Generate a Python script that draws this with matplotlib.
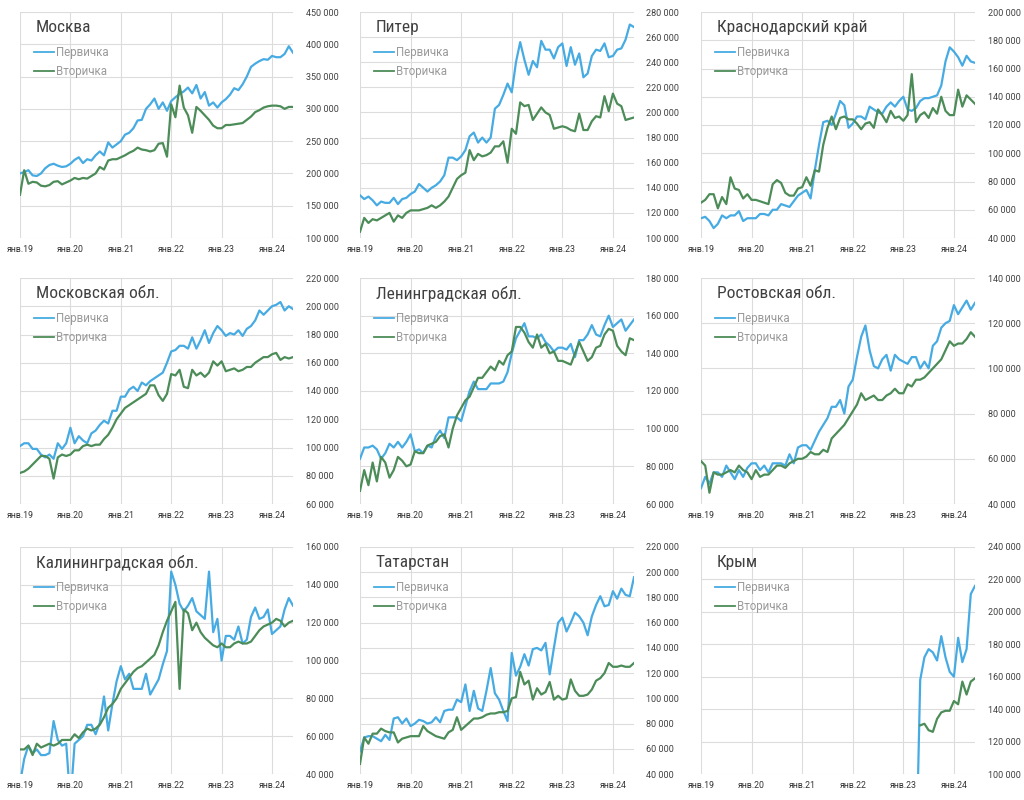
import numpy as np
import matplotlib
matplotlib.use("Agg")
import matplotlib.pyplot as plt
from matplotlib import font_manager

plt.rcParams['font.family'] = ['Roboto', 'DejaVu Sans']

# ежемесячные цены, тыс. руб./м², янв.2019 - июн.2024 (66 точек)
regions = ["Москва", "Питер", "Краснодарский край",
           "Московская обл.", "Ленинградская обл.", "Ростовская обл.",
           "Калининградская обл.", "Татарстан", "Крым"]

moscow_new = [200, 202, 205, 197, 196, 200, 208, 213, 215, 212, 210, 211,
              215, 221, 225, 216, 222, 220, 228, 234, 228, 248, 240, 245,
              250, 260, 263, 270, 282, 283, 300, 307, 316, 300, 310, 297,
              312, 318, 323, 327, 333, 324, 337, 316, 326, 305, 310, 302,
              310, 315, 322, 332, 329, 338, 350, 365, 370, 374, 377, 376,
              382, 380, 380, 385, 397, 387]
moscow_old = [167, 205, 184, 187, 186, 181, 180, 182, 187, 188, 183, 186,
              189, 193, 191, 193, 192, 196, 200, 210, 206, 220, 222, 222,
              225, 228, 232, 235, 240, 237, 236, 234, 236, 246, 247, 226,
              307, 287, 336, 302, 290, 263, 303, 297, 290, 283, 274, 270,
              270, 275, 275, 276, 277, 278, 283, 288, 295, 298, 302, 304,
              305, 305, 304, 300, 303, 303]

spb_new = [134, 131, 133, 130, 126, 129, 128, 128, 132, 127, 131, 132,
           135, 137, 143, 140, 137, 140, 142, 145, 150, 164, 164, 162,
           165, 170, 181, 184, 176, 180, 176, 180, 203, 206, 214, 223,
           216, 240, 256, 242, 230, 241, 236, 257, 250, 250, 243, 252,
           255, 237, 252, 238, 247, 228, 231, 245, 250, 249, 255, 244,
           245, 250, 251, 258, 270, 268]
spb_old = [105, 116, 112, 115, 114, 116, 118, 120, 113, 118, 116, 120,
           122, 122, 122, 123, 124, 126, 124, 126, 129, 133, 140, 147,
           150, 152, 170, 162, 167, 165, 166, 168, 173, 173, 177, 160,
           187, 183, 208, 205, 206, 194, 199, 204, 200, 198, 187, 188,
           189, 188, 186, 185, 199, 186, 186, 193, 197, 196, 213, 201,
           215, 207, 205, 194, 195, 196]

krd_new = [54, 55, 52, 47, 50, 56, 54, 56, 56, 59, 52, 54,
           54, 54, 57, 57, 56, 60, 60, 64, 63, 62, 66, 70,
           72, 74, 68, 88, 106, 122, 123, 120, 128, 137, 134, 118,
           121, 126, 126, 124, 133, 131, 129, 128, 133, 136, 133, 137,
           140, 131, 130, 132, 137, 139, 139, 140, 141, 148, 165, 175,
           172, 168, 162, 169, 165, 164]
krd_old = [65, 67, 71, 71, 61, 69, 64, 83, 75, 74, 68, 71,
           67, 67, 66, 65, 64, 78, 81, 79, 72, 70, 70, 75,
           76, 83, 77, 88, 87, 106, 118, 126, 117, 125, 126, 124,
           124, 121, 117, 121, 122, 118, 131, 127, 122, 130, 125, 126,
           123, 127, 156, 122, 127, 129, 125, 132, 128, 140, 130, 127,
           127, 145, 133, 141, 138, 135]

mo_new = [101, 103, 103, 99, 99, 95, 93, 95, 92, 103, 99, 103,
          114, 103, 108, 105, 103, 110, 112, 116, 119, 117, 126, 126,
          136, 136, 141, 143, 140, 146, 144, 147, 149, 151, 153, 160,
          168, 169, 172, 172, 170, 178, 170, 176, 183, 174, 181, 186,
          183, 179, 181, 180, 183, 179, 184, 186, 190, 197, 194, 197,
          200, 201, 203, 197, 200, 198]
mo_old = [82, 83, 85, 88, 91, 94, 94, 92, 78, 93, 95, 94,
          95, 98, 98, 101, 102, 101, 102, 102, 106, 109, 114, 120,
          124, 128, 130, 132, 134, 136, 138, 144, 144, 137, 133, 138,
          152, 151, 155, 143, 142, 155, 151, 153, 150, 153, 161, 158,
          161, 154, 155, 156, 154, 155, 157, 157, 160, 162, 164, 164,
          166, 167, 162, 164, 163, 164]

lo_new = [84, 90, 90, 91, 89, 84, 87, 92, 90, 93, 90, 93,
          97, 88, 89, 87, 91, 90, 96, 99, 95, 106, 106, 106,
          104, 112, 120, 125, 121, 121, 121, 124, 124, 124, 125, 130,
          140, 148, 152, 156, 149, 149, 148, 150, 146, 144, 141, 143,
          143, 142, 145, 138, 147, 147, 150, 155, 150, 149, 155, 160,
          154, 156, 158, 152, 155, 158]
lo_old = [67, 78, 70, 82, 72, 85, 82, 74, 78, 85, 83, 80,
          81, 88, 87, 87, 91, 92, 93, 96, 97, 90, 100, 107,
          111, 115, 117, 122, 127, 127, 130, 133, 131, 136, 134, 139,
          141, 154, 154, 151, 146, 143, 150, 143, 145, 140, 141, 136,
          136, 135, 134, 140, 146, 141, 136, 138, 143, 144, 150, 153,
          152, 144, 141, 139, 148, 147]

rostov_new = [47, 52, 49, 54, 54, 52, 57, 54, 51, 55, 52, 56,
              58, 58, 55, 57, 54, 58, 58, 58, 57, 62, 58, 65,
              66, 66, 64, 68, 72, 75, 78, 83, 83, 86, 80, 92,
              95, 105, 114, 119, 108, 101, 100, 104, 106, 99, 106, 104,
              103, 102, 105, 105, 100, 103, 100, 110, 112, 118, 120, 121,
              128, 124, 127, 130, 126, 129]
rostov_old = [59, 57, 45, 54, 53, 53, 54, 55, 54, 57, 55, 54,
              51, 55, 52, 53, 53, 55, 57, 57, 56, 58, 59, 60,
              60, 61, 63, 62, 62, 64, 63, 69, 71, 73, 75, 78,
              81, 84, 89, 86, 87, 88, 86, 86, 88, 89, 91, 89,
              89, 93, 92, 95, 95, 96, 98, 100, 102, 104, 108, 112,
              110, 111, 111, 113, 116, 114]

kgd_new = [35, 48, 55, 51, 53, 50, 50, 51, 68, 58, 55, 56,
           25, 56, 58, 60, 66, 66, 61, 67, 81, 63, 77, 89,
           97, 90, 93, 85, 85, 85, 93, 82, 86, 90, 98, 105,
           147, 140, 130, 126, 129, 133, 126, 124, 122, 147, 115, 122,
           100, 113, 113, 111, 118, 109, 111, 123, 128, 122, 123, 127,
           114, 116, 118, 127, 133, 129]
kgd_old = [53, 53, 55, 50, 56, 54, 55, 56, 55, 56, 58, 58,
           58, 61, 59, 62, 64, 63, 64, 66, 70, 75, 77, 80,
           85, 88, 91, 94, 96, 97, 99, 101, 103, 108, 115, 121,
           126, 131, 85, 127, 125, 116, 120, 115, 112, 110, 108, 107,
           109, 107, 107, 109, 110, 109, 109, 110, 113, 116, 118, 119,
           120, 122, 121, 118, 120, 121]

tat_new = [58, 69, 70, 70, 68, 66, 71, 67, 84, 85, 80, 84,
           78, 80, 83, 82, 80, 81, 85, 81, 90, 91, 91, 99,
           97, 111, 90, 106, 92, 90, 106, 124, 104, 99, 90, 82,
           136, 118, 125, 135, 126, 139, 140, 138, 144, 119, 140, 160,
           164, 153, 160, 168, 165, 160, 150, 165, 174, 181, 173, 174,
           185, 179, 187, 182, 181, 196]
tat_old = [48, 69, 64, 72, 72, 76, 74, 73, 73, 65, 68, 69,
           70, 70, 70, 78, 74, 72, 70, 69, 68, 73, 75, 85,
           75, 78, 81, 84, 84, 85, 87, 88, 88, 89, 89, 90,
           100, 101, 121, 111, 114, 99, 108, 103, 105, 113, 99, 102,
           99, 100, 115, 106, 102, 102, 103, 107, 114, 116, 120, 128,
           125, 125, 126, 125, 125, 128]

crimea_new = [np.nan] * 51 + [40, 158, 172, 177, 175, 170, 185, 172, 163,
                              160, 184, 169, 177, 211, 216]
crimea_old = [np.nan] * 52 + [130, 131, 127, 126, 134, 138, 139, 139,
                              145, 143, 157, 149, 157, 159]

series = [(moscow_new, moscow_old), (spb_new, spb_old), (krd_new, krd_old),
          (mo_new, mo_old), (lo_new, lo_old), (rostov_new, rostov_old),
          (kgd_new, kgd_old), (tat_new, tat_old), (crimea_new, crimea_old)]
y_ranges = [(100, 450, 50), (100, 280, 20), (40, 200, 20),
            (60, 220, 20), (60, 180, 20), (40, 140, 20),
            (40, 160, 20), (40, 220, 20), (100, 240, 20)]
year_ticks = [0, 12, 24, 36, 48, 60]
year_labels = ["янв.19", "янв.20", "янв.21", "янв.22", "янв.23", "янв.24"]

blue = "#47ABE3"
green = "#4C8C58"
grid_c = "#dcdcdc"

# узкий шрифт для заголовков, если найдётся
title_font = None
title_size = 11
for wanted, size in [("Liberation Sans Narrow", 12.5), ("Roboto Condensed", 12.5),
                     ("Open Sans Condensed", 12.5), ("Noto Sans Condensed", 12.5)]:
    hits = [f for f in font_manager.fontManager.ttflist
            if f.name == wanted and f.style == "normal" and f.weight in (400, "normal", "regular")]
    if hits:
        title_font = font_manager.FontProperties(fname=hits[0].fname)
        title_size = size
        break
if title_font is None:
    cond = [f for f in font_manager.fontManager.ttflist
            if f.name == "DejaVu Sans" and "condensed" in str(f.stretch).lower()
            and f.style == "normal" and f.weight in (400, "normal")]
    if cond:
        title_font = font_manager.FontProperties(fname=cond[0].fname)
        title_size = 11.5
    else:
        title_font = font_manager.FontProperties(family="Roboto")
title_font.set_size(title_size)

fig = plt.figure(figsize=(10.24, 8), dpi=100)
col_left = [20, 360, 701]
col_w = [273, 274, 274]
row_top = [12, 278, 547]
row_h = [226, 226, 227]

for i, name in enumerate(regions):
    r, c = divmod(i, 3)
    left = col_left[c] / 1024
    bottom = 1 - (row_top[r] + row_h[r]) / 800
    ax = fig.add_axes([left, bottom, col_w[c] / 1024, row_h[r] / 800])
    new, old = series[i]
    ax.plot(np.arange(len(new)), new, color=blue, lw=1.6, label="Первичка")
    ax.plot(np.arange(len(old)), old, color=green, lw=1.6, label="Вторичка")

    lo, hi, step = y_ranges[i]
    ax.set_ylim(lo, hi)
    ax.set_xlim(0, 65)
    yt = np.arange(lo, hi + 1, step)
    ax.set_yticks(yt)
    ax.set_yticklabels([f"{v * 1000:,}".replace(",", " ") for v in yt])
    ax.set_xticks(year_ticks)
    ax.set_xticklabels(year_labels)
    ax.yaxis.tick_right()
    ax.tick_params(axis="y", length=0, pad=9, labelsize=6.5, labelcolor="#404040")
    ax.tick_params(axis="x", length=0, pad=5, labelsize=6.3, labelcolor="#333333")
    for s in ax.spines.values():
        s.set_visible(False)
    ax.grid(True, color=grid_c, lw=0.8)
    ax.set_axisbelow(True)

    ax.text(0.058, 0.93, name, transform=ax.transAxes, fontproperties=title_font,
            color="#404040", va="center", ha="left")
    leg = ax.legend(loc="upper left", bbox_to_anchor=(0.05, 0.85), frameon=False,
                    fontsize=8.3, handlelength=1.8, handletextpad=0.1,
                    labelspacing=0.55, borderaxespad=0, borderpad=0,
                    labelcolor="#999999")
    for ln in leg.get_lines():
        ln.set_linewidth(1.3)

fig.savefig("out.png", dpi=100, facecolor="white")
